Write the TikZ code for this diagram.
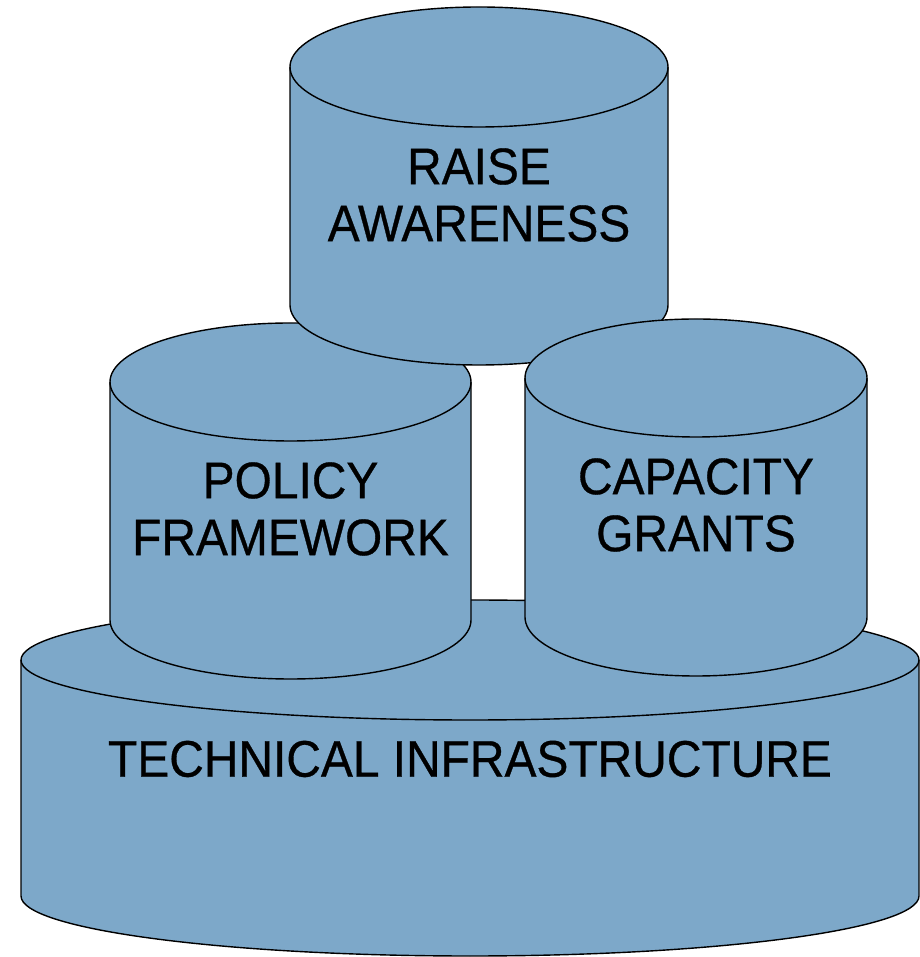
\documentclass[tikz,border=0pt]{standalone}
\usepackage{fontspec}
\setmainfont{Liberation Sans}[FakeStretch=0.93,FakeBold=0.6]
\definecolor{cylfill}{RGB}{125,168,201}
\tikzset{
  cylbody/.style={fill=cylfill, draw=black, line width=1.4bp, line join=round},
  cylline/.style={draw=black, line width=1.4bp},
  cyllabel/.style={align=center, inner sep=0pt, text=black,
    font=\fontsize{51.7}{57.2}\selectfont}
}
% #1 cx, #2 top ellipse centre y, #3 bottom ellipse centre y, #4 rx, #5 ry
\newcommand\mycyl[5]{%
  \path[cylbody] (#1-#4,#2) -- (#1-#4,#3)
    arc[start angle=180,end angle=360,x radius=#4bp,y radius=#5bp]
    -- (#1+#4,#2)
    arc[start angle=0,end angle=180,x radius=#4bp,y radius=#5bp] -- cycle;
  \draw[cylline] (#1-#4,#2)
    arc[start angle=180,end angle=360,x radius=#4bp,y radius=#5bp];
}
\begin{document}
\begin{tikzpicture}[x=1bp,y=1bp]
\useasboundingbox (0,0) rectangle (920,957);
% technical infrastructure (base)
\mycyl{470}{297}{61}{449}{60}
\node[cyllabel] (tech) at (470,198) {TECHNICAL INFRASTRUCTURE};
% policy framework
\mycyl{290.5}{575}{337}{180.5}{59}
\node[cyllabel] (policy) at (290.5,448) {POLICY\\FRAMEWORK};
% raise awareness
\mycyl{479}{890}{652}{189}{60}
\node[cyllabel] (raise) at (479,762) {RAISE\\AWARENESS};
% capacity grants
\mycyl{696}{579}{340}{171}{59}
\node[cyllabel] (capacity) at (696,452) {CAPACITY\\GRANTS};
\end{tikzpicture}
\end{document}
